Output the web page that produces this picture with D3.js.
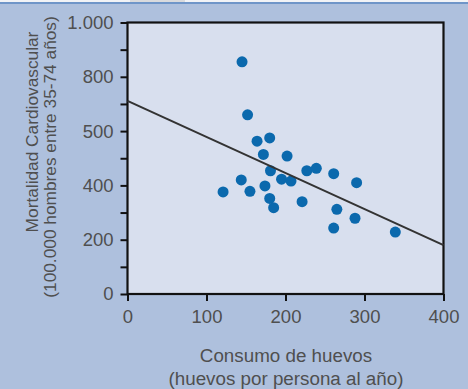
<!DOCTYPE html>
<html><head><meta charset="utf-8">
<script src="https://cdn.jsdelivr.net/npm/d3@7/dist/d3.min.js"></script>
<style>
html,body{margin:0;padding:0;background:#aec0dd;}
svg{display:block;}
text{font-family:"Liberation Sans",Arial,sans-serif;fill:#4f4f4f;}
</style></head>
<body><svg id="c" width="468" height="389"></svg>
<script>
// Data
const eggs = [145,152,164,180,172,202,181,227,239,261,144,195,207,174,290,121,155,180,221,185,265,288,261,339];
const mortality = [855,660,563,575,514,508,454,454,463,443,420,423,416,398,410,376,378,352,340,318,312,279,243,228];
const trendX = [0,400];
const trendY = [711,180];
const xTicks = [0,100,200,300,400];
const xTickLabels = ["0","100","200","300","400"];
const yTicks = [0,200,400,600,800,1000];
const yTickLabels = ["0","200","400","500","800","1.000"];
const yMinorTicks = [100,300,500,700,900];
const xTitle = ["Consumo de huevos","(huevos por persona al año)"];
const yTitle = ["Mortalidad Cardiovascular","(100.000 hombres entre 35-74 años)"];

const svg = d3.select("#c");
const L=127.5, R=443.5, T=22.5, B=294;
const x = d3.scaleLinear().domain([0,400]).range([L,R]);
const y = d3.scaleLinear().domain([0,1000]).range([B,T]);

// top decoration
svg.append("rect").attr("x",0).attr("y",0).attr("width",468).attr("height",2).attr("fill","#f2f3f6");
svg.append("rect").attr("x",130).attr("y",0).attr("width",55).attr("height",2).attr("fill","#d9dadd");
svg.append("rect").attr("x",0).attr("y",2).attr("width",468).attr("height",2).attr("fill","#6f95c8");

// plot background
svg.append("rect").attr("x",L).attr("y",T).attr("width",R-L).attr("height",B-T).attr("fill","#d8dfee");

// y axis
const yAxis = d3.axisLeft(y).tickValues(yTicks).tickSize(7).tickPadding(7)
  .tickFormat((d,i)=>yTickLabels[i]);
const gy = svg.append("g").attr("transform",`translate(${L},0)`).call(yAxis);
gy.select(".domain").remove();
gy.selectAll("line").attr("stroke","#111").attr("stroke-width",2);
gy.selectAll("text").attr("font-size",18.5).style("font-family","Liberation Sans, Arial, sans-serif").attr("fill","#4f4f4f");
const gym = svg.append("g").attr("transform",`translate(${L},0)`)
  .call(d3.axisLeft(y).tickValues(yMinorTicks).tickSize(7).tickFormat(""));
gym.select(".domain").remove();
gym.selectAll("line").attr("stroke","#111").attr("stroke-width",2);

// x axis
const xAxis = d3.axisBottom(x).tickValues(xTicks).tickSize(7).tickPadding(9)
  .tickFormat((d,i)=>xTickLabels[i]);
const gx = svg.append("g").attr("transform",`translate(0,${B})`).call(xAxis);
gx.select(".domain").remove();
gx.selectAll("line").attr("stroke","#111").attr("stroke-width",2);
gx.selectAll("text").attr("font-size",18.5).style("font-family","Liberation Sans, Arial, sans-serif").attr("fill","#4f4f4f");

// frame
svg.append("rect").attr("x",L).attr("y",T).attr("width",R-L).attr("height",B-T)
  .attr("fill","none").attr("stroke","#111").attr("stroke-width",2.2);

// points
svg.append("g").selectAll("circle").data(eggs).join("circle")
  .attr("cx",(d)=>x(d)).attr("cy",(d,i)=>y(mortality[i])).attr("r",5.5).attr("fill","#0b69ad");

// trend line
svg.append("path").datum(trendX.map((d,i)=>[d,trendY[i]]))
  .attr("d",d3.line().x(d=>x(d[0])).y(d=>y(d[1])))
  .attr("stroke","#333").attr("stroke-width",2).attr("fill","none");

// x title
svg.append("text").attr("x",286).attr("y",362).attr("text-anchor","middle").attr("font-size",18.8).text(xTitle[0]);
svg.append("text").attr("x",286).attr("y",385).attr("text-anchor","middle").attr("font-size",18.8).text(xTitle[1]);

// y title
svg.append("text").attr("transform","translate(38,132) rotate(-90)").attr("text-anchor","middle").attr("font-size",17.3).text(yTitle[0]);
svg.append("text").attr("transform","translate(56,157) rotate(-90)").attr("text-anchor","middle").attr("font-size",17.3).text(yTitle[1]);
</script></body></html>
